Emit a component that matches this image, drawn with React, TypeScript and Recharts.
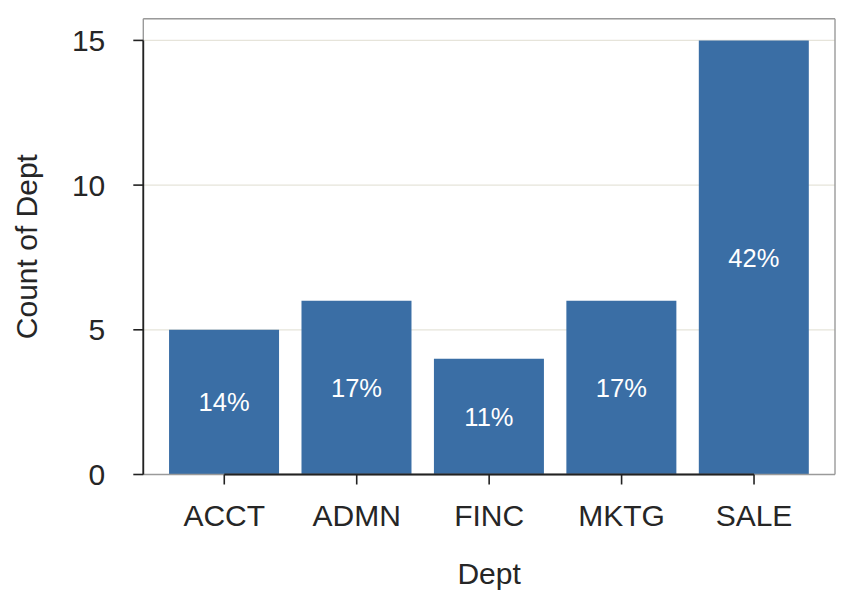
import React from 'react';
import { BarChart, Bar, XAxis, YAxis, CartesianGrid, ReferenceLine, LabelList } from 'recharts';

const departments = ['ACCT', 'ADMN', 'FINC', 'MKTG', 'SALE'];
const counts = [5, 6, 4, 6, 15];
const shareLabels = ['14%', '17%', '11%', '17%', '42%'];
const yTicks = [0, 5, 10, 15];
const yMax = 15.75;

const data = departments.map((d, i) => ({ dept: d, count: counts[i], share: shareLabels[i] }));

const FONT = '"Liberation Sans", Arial, Helvetica, sans-serif';
const TEXT = '#262626';
const FRAME = '#9a9a9a';
const INK = '#222222';

export default function App() {
  return (
    <div style={{ fontFamily: FONT }}>
      <BarChart
        width={848}
        height={588}
        data={data}
        margin={{ top: 10.7, right: 20, bottom: 0, left: 0 }}
      >
        <CartesianGrid vertical={false} stroke="#e6e4da" strokeWidth={1.2} />
        <XAxis
          dataKey="dept"
          height={121.5}
          padding={{ left: 14.75, right: 14.75 }}
          axisLine={false}
          tickLine={{ stroke: INK, strokeWidth: 1.6 }}
          tickSize={10}
          tickMargin={20}
          tick={{ fontSize: 30, fill: TEXT, fontFamily: FONT }}
          label={{ value: 'Dept', position: 'insideBottom', offset: 12, fontSize: 30, fill: TEXT, fontFamily: FONT }}
        />
        <XAxis xAxisId="frame" type="number" domain={[0, 1]} allowDataOverflow hide />
        <YAxis
          width={135.3}
          domain={[0, yMax]}
          ticks={yTicks}
          axisLine={false}
          tickLine={{ stroke: INK, strokeWidth: 1.6 }}
          tickSize={10}
          tickMargin={28}
          tick={{ fontSize: 30, fill: TEXT, fontFamily: FONT }}
          label={{ value: 'Count of Dept', angle: -90, position: 'insideLeft', offset: 18, fontSize: 30, fill: TEXT, fontFamily: FONT, style: { textAnchor: 'middle' } }}
        />
        <YAxis
          yAxisId="right"
          orientation="right"
          width={1}
          domain={[0, yMax]}
          tick={false}
          tickLine={false}
          axisLine={{ stroke: FRAME, strokeWidth: 1.4 }}
        />
        <Bar dataKey="count" fill="#3a6ea5" barSize={110} isAnimationActive={false}>
          <LabelList dataKey="share" position="center" fill="#ffffff" fontSize={25.5} fontFamily={FONT} />
        </Bar>
        <ReferenceLine xAxisId="frame" y={yMax} stroke={FRAME} strokeWidth={1.4} ifOverflow="visible" />
        <ReferenceLine xAxisId="frame" y={0} stroke={FRAME} strokeWidth={1.4} ifOverflow="visible" />
        <ReferenceLine xAxisId="frame" x={0} stroke={FRAME} strokeWidth={1.4} ifOverflow="visible" />
        <ReferenceLine xAxisId="frame" segment={[{ x: 0, y: 0 }, { x: 0, y: 15 }]} stroke={INK} strokeWidth={1.8} ifOverflow="visible" />
        <ReferenceLine segment={[{ x: 'ACCT', y: 0 }, { x: 'SALE', y: 0 }]} stroke={INK} strokeWidth={1.8} ifOverflow="visible" />
      </BarChart>
    </div>
  );
}
